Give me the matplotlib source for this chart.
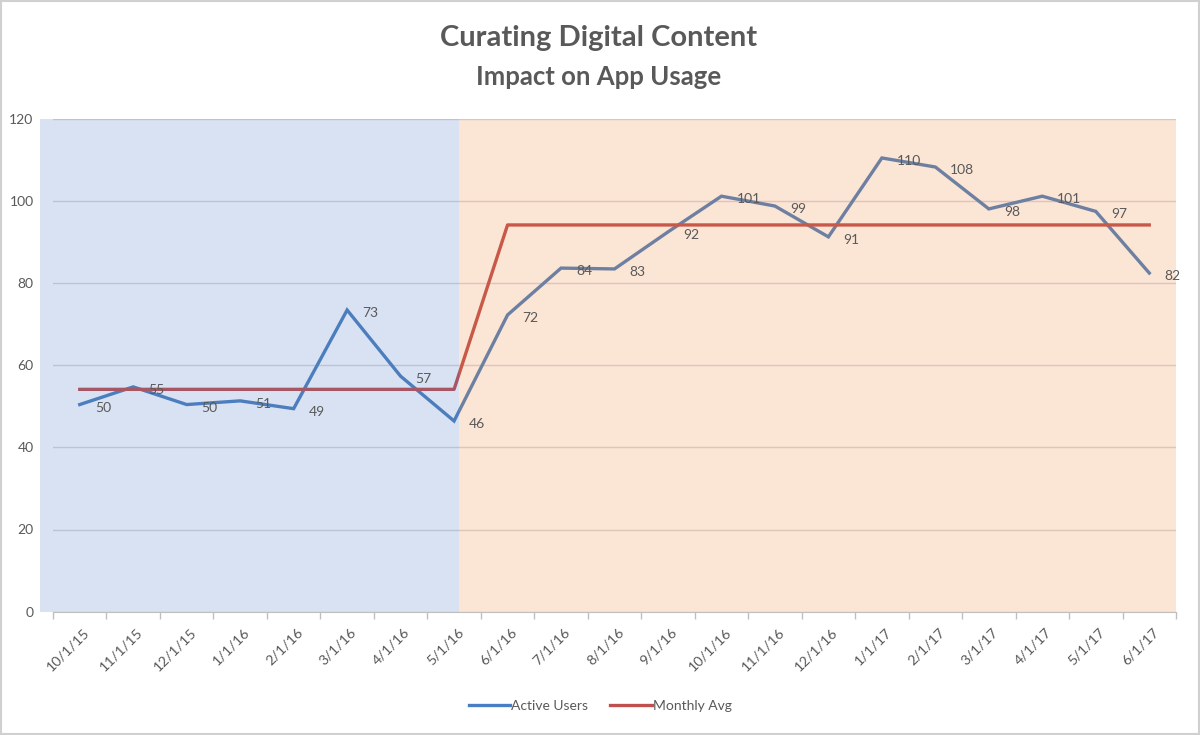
import matplotlib
matplotlib.use("Agg")
import matplotlib.pyplot as plt
from matplotlib.patches import Rectangle
from matplotlib.transforms import ScaledTranslation
from matplotlib.lines import Line2D

plt.rcParams['font.family'] = ['Lato', 'DejaVu Sans']

dates = ["10/1/15", "11/1/15", "12/1/15", "1/1/16", "2/1/16", "3/1/16", "4/1/16",
         "5/1/16", "6/1/16", "7/1/16", "8/1/16", "9/1/16", "10/1/16", "11/1/16",
         "12/1/16", "1/1/17", "2/1/17", "3/1/17", "4/1/17", "5/1/17", "6/1/17"]
active_users = [50.4, 54.7, 50.4, 51.3, 49.4, 73.4, 57.3, 46.4, 72.2, 83.6, 83.4,
                92.4, 101.1, 98.7, 91.2, 110.4, 108.2, 98.0, 101.1, 97.4, 82.4]
user_labels = ["50", "55", "50", "51", "49", "73", "57", "46", "72", "84", "83",
               "92", "101", "99", "91", "110", "108", "98", "101", "97", "82"]
monthly_avg = [54.1] * 8 + [94.1] * 13
yticks = [0, 20, 40, 60, 80, 100, 120]

GRAY = "#595959"
fig = plt.figure(figsize=(12, 7.35), dpi=100)
fig.patch.set_facecolor("white")
fig.add_artist(Rectangle((0.001, 0.001), 0.998, 0.998, transform=fig.transFigure,
                         fill=False, edgecolor="#d0d0d0", linewidth=1.5))

ax = fig.add_axes([53 / 1200, 1 - 611.7 / 735, (1176 - 53) / 1200, (611.7 - 118.5) / 735])
x = list(range(len(dates)))
ax.set_xlim(-0.5, len(dates) - 0.5)
ax.set_ylim(0, 120)

ax.set_yticks(yticks)
ax.yaxis.grid(True, color="#d9d9d9", linewidth=1.0, zorder=1)
ax.set_axisbelow(True)
ax.plot(x, active_users, color="#4F81BD", linewidth=2.4, zorder=3, solid_joinstyle="miter")
ax.plot(x, monthly_avg, color="#C0504D", linewidth=2.4, zorder=3)

# translucent overlay shading (drawn above the lines)
ax.axvspan(-0.745, 7.1, color="#4472C4", alpha=0.2, zorder=4, clip_on=False, linewidth=0)
ax.axvspan(7.1, len(dates) - 0.5, color="#ED7D31", alpha=0.2, zorder=4, linewidth=0)

for xi, yi, lab in zip(x, active_users, user_labels):
    ax.annotate(lab, (xi, yi), xytext=(15, -3), textcoords="offset pixels",
                ha="left", va="center", fontsize=10, color=GRAY, zorder=5)

for s in ["left", "right", "top"]:
    ax.spines[s].set_visible(False)
ax.spines["bottom"].set_color("#bfbfbf")
ax.spines["bottom"].set_zorder(5)

ax.tick_params(axis="y", length=0, pad=14, labelsize=10, labelcolor=GRAY)
ax.set_xticks(x)
ax.set_xticklabels(dates)
ax.set_xticks([i - 0.5 for i in range(len(dates) + 1)], minor=True)
ax.tick_params(axis="x", which="major", length=0, pad=10, labelsize=10.3, labelcolor=GRAY)
ax.tick_params(axis="x", which="minor", length=5, color="#bfbfbf", width=1)
for lbl in ax.get_xticklabels():
    lbl.set_rotation(45)
    lbl.set_ha("right")
    lbl.set_va("top")
    lbl.set_rotation_mode("anchor")
    lbl.set_transform(lbl.get_transform() + ScaledTranslation(3 / 100, 0, fig.dpi_scale_trans))

fig.text(0.4985, 1 - 38 / 735, "Curating Digital Content", ha="center", va="center",
         fontsize=21, fontweight="bold", color=GRAY)
fig.text(0.4985, 1 - 77 / 735, "Impact on App Usage", ha="center", va="center",
         fontsize=18.5, fontweight="bold", color=GRAY)

handles = [Line2D([], [], color="#4A7EC4", linewidth=2.4),
           Line2D([], [], color="#C0504D", linewidth=2.4)]
fig.legend(handles, ["Active Users", "Monthly Avg"], loc="center",
           bbox_to_anchor=(0.5, 1 - 706 / 735), ncol=2, frameon=False,
           fontsize=10, labelcolor=GRAY, handlelength=3.0, handletextpad=0.05,
           columnspacing=1.6)

fig.savefig("out.png", dpi=100, facecolor="white")
